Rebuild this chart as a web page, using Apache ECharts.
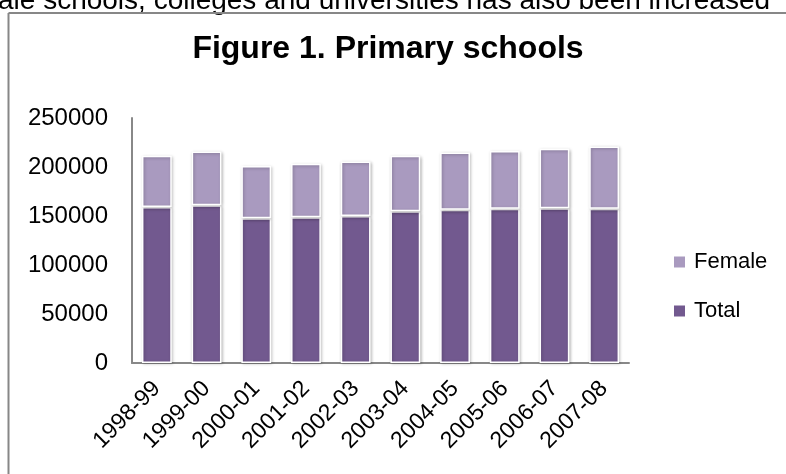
<!DOCTYPE html>
<html>
<head>
<meta charset="utf-8">
<script src="https://cdn.jsdelivr.net/npm/echarts@6/dist/echarts.min.js"></script>
<style>
html,body{margin:0;padding:0;background:#fff;}
#chart{width:786px;height:474px;}
</style>
</head>
<body>
<div id="chart"></div>
<script>
var categories = ['1998-99','1999-00','2000-01','2001-02','2002-03','2003-04','2004-05','2005-06','2006-07','2007-08'];
var totalValues = [159300,161000,147700,148700,150100,154800,156500,157500,157900,157500];
var femaleValues = [52100,54800,53200,54500,55500,56600,58300,58700,60700,63400];
var titleText = 'Figure 1. Primary schools';
var aboveText = 'ale schools, colleges and universities has also been increased';

var chart = echarts.init(document.getElementById('chart'), null, {renderer:'canvas'});
var font = 'Liberation Sans';
var barStyle = function(color){
  return {color: color, borderColor:'#ffffff', borderWidth:1.5,
    shadowColor:'rgba(0,0,0,0.25)', shadowBlur:3, shadowOffsetX:1, shadowOffsetY:1};
};
chart.setOption({
  animation:false,
  backgroundColor:'#ffffff',
  textStyle:{fontFamily:font},
  graphic:[
    {type:'text', left:-2, top:-13, style:{text:aboveText, font:'28px "Liberation Sans"', fill:'#000'}},
    {type:'line', shape:{x1:8.5,y1:13,x2:786,y2:13}, style:{stroke:'#878787', lineWidth:2}},
    {type:'line', shape:{x1:8.5,y1:13,x2:8.5,y2:474}, style:{stroke:'#878787', lineWidth:2}}
  ],
  title:{text:titleText, left:383, top:28, textAlign:'center',
    textStyle:{fontFamily:font, fontSize:32, fontWeight:'bold', color:'#000'}},
  legend:{
    orient:'vertical', left:672, top:251, padding:0, itemWidth:13, itemHeight:13, itemGap:27,
    icon:'rect', data:['Female','Total'],
    textStyle:{fontFamily:font, fontSize:22, color:'#000', padding:[0,0,0,3]}
  },
  grid:{left:132, right:157, top:118, bottom:111, containLabel:false},
  xAxis:{
    type:'category', data:categories,
    axisLine:{lineStyle:{color:'#888', width:2}},
    axisTick:{show:false},
    axisLabel:{rotate:45, fontSize:23, color:'#000', fontFamily:font, margin:22, interval:0}
  },
  yAxis:{
    type:'value', min:0, max:250000, interval:50000,
    splitLine:{show:false},
    axisLine:{show:true, lineStyle:{color:'#888', width:2}},
    axisTick:{show:false},
    axisLabel:{fontSize:24, color:'#000', fontFamily:font, margin:24,
      formatter:function(v){return String(v);}}
  },
  series:[
    {name:'Total', type:'bar', stack:'s', data:totalValues, barWidth:'60%', itemStyle:barStyle('#72598F')},
    {name:'Female', type:'bar', stack:'s', data:femaleValues, barWidth:'60%', itemStyle:barStyle('#A99ABF')}
  ]
});
</script>
</body>
</html>
